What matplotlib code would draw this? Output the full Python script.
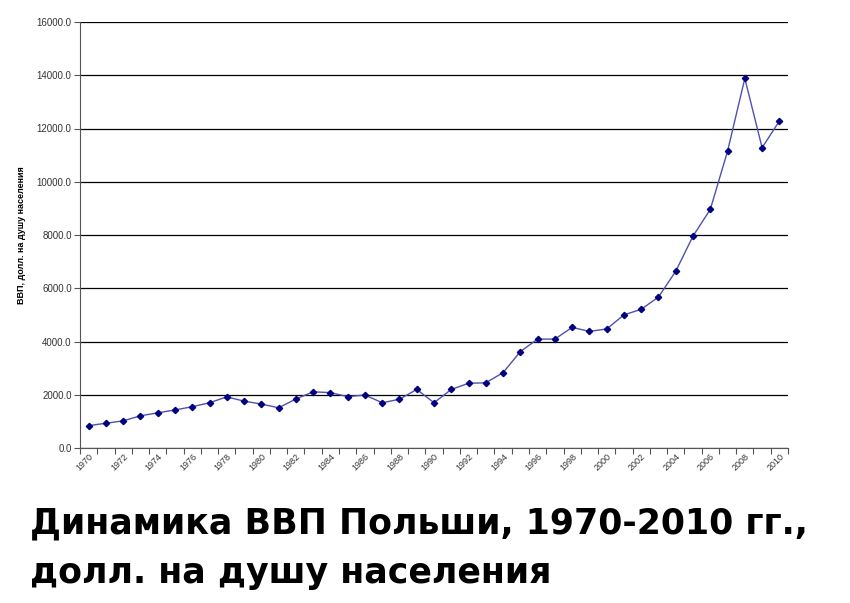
import matplotlib
matplotlib.use("Agg")
import matplotlib.pyplot as plt
import numpy as np
from matplotlib.ticker import FixedLocator, FuncFormatter

years = list(range(1970, 2011))
gdp = [840, 930, 1020, 1210, 1320, 1430, 1550, 1700, 1920, 1760,
       1650, 1510, 1840, 2110, 2080, 1930, 1990, 1700, 1830, 2200,
       1700, 2200, 2430, 2450, 2830, 3620, 4090, 4090, 4530, 4380,
       4470, 5000, 5210, 5670, 6640, 7960, 8960, 11150, 13880, 11280,
       12280]
yticks = [0, 2000, 4000, 6000, 8000, 10000, 12000, 14000, 16000]
xlabels = [str(y) for y in years if (y - 1970) % 2 == 0]

fig = plt.figure(figsize=(8.5, 6.03), dpi=100)
ax = fig.add_axes([80/850, 1 - 448/603, 708/850, 426/603])

x = np.arange(len(years))
ax.plot(x, gdp, color="#5050b0", lw=1.0, marker="D", markersize=3.2,
        markerfacecolor="#000080", markeredgecolor="#000080", zorder=3)

ax.set_xlim(-0.5, len(years) - 0.5)
ax.set_ylim(0, 16000)
ax.set_yticks(yticks)
ax.yaxis.set_major_formatter(FuncFormatter(lambda v, p: f"{v:.1f}"))
ax.grid(axis="y", color="black", lw=0.9)
ax.set_axisbelow(True)

for s in ["top", "right"]:
    ax.spines[s].set_visible(False)
ax.spines["left"].set_color("#555555")
ax.spines["bottom"].set_color("#555555")

ax.xaxis.set_major_locator(FixedLocator(np.arange(-0.5, len(years), 1.0)))
ax.xaxis.set_major_formatter(FuncFormatter(lambda v, p: ""))
ax.tick_params(axis="x", which="major", length=4, color="#555555", direction="out")
lab_pos = [i for i, y in enumerate(years) if (y - 1970) % 2 == 0]
ax.xaxis.set_minor_locator(FixedLocator(lab_pos))
ax.set_xticklabels(xlabels, minor=True)
ax.tick_params(axis="x", which="minor", length=0, pad=3, labelsize=6.5,
               labelcolor="#333333")
for t in ax.get_xticklabels(minor=True):
    t.set_rotation(45)
    t.set_ha("right")
    t.set_rotation_mode("anchor")
    t.set_family("Liberation Sans")

ax.tick_params(axis="y", length=4, color="#555555", labelsize=7,
               labelcolor="#333333", pad=2)
for t in ax.get_yticklabels():
    t.set_family("Liberation Sans")

ax.set_ylabel("ВВП, долл. на душу населения", fontsize=6.5, fontweight="bold",
              family="Liberation Sans", labelpad=8)

fig.text(30/850, 1 - 523/603, "Динамика ВВП Польши, 1970-2010 гг.,",
         fontsize=25, fontweight="bold", family="DejaVu Sans", va="center", ha="left")
fig.text(30/850, 1 - 573/603, "долл. на душу населения",
         fontsize=25, fontweight="bold", family="DejaVu Sans", va="center", ha="left")

fig.savefig("out.png", dpi=100)
